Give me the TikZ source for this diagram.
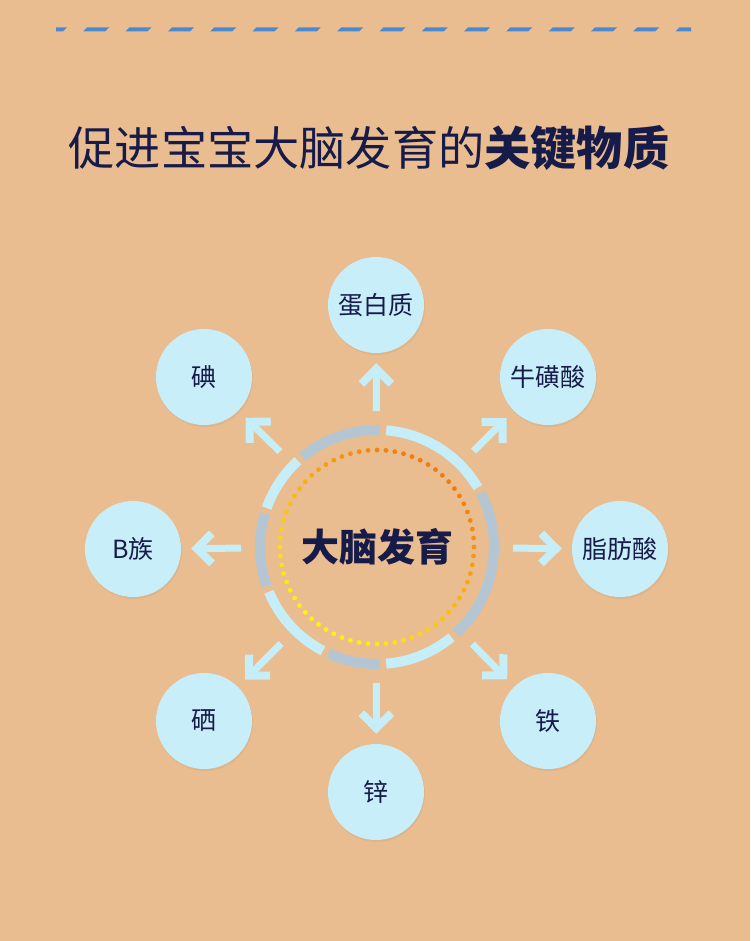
\documentclass[tikz,border=0pt]{standalone}
\usepackage{fontspec}
\setmainfont{Noto Sans CJK SC}
\usetikzlibrary{arrows.meta,shadows}
\definecolor{bg}{HTML}{E9BD8F}
\definecolor{navy}{HTML}{161B4A}
\definecolor{bubblec}{HTML}{C8EEFA}
\definecolor{ringg}{HTML}{B4C6D3}
\definecolor{ringc}{HTML}{C6EEF9}
\definecolor{arrowc}{HTML}{C6EEF9}
\definecolor{dashc}{HTML}{4A89CF}
\definecolor{dotor}{HTML}{F07A10}
\definecolor{dotye}{HTML}{FFE812}
\begin{document}
\begin{tikzpicture}[x=1pt,y=1pt,
  bubble/.style={circle, fill=bubblec, minimum size=96pt, inner sep=0pt, text=navy,
    font=\fontsize{25}{27}\selectfont,
    drop shadow={opacity=0.12, shadow xshift=1pt, shadow yshift=-2pt}},
  bigarrow/.style={draw=arrowc, line width=7pt,
    -{Straight Barb[length=15pt,width=30pt,line width=8pt]},
    shorten <=136pt, shorten >=10pt},
  ringseg/.style={line width=10pt}]
\fill[bg] (0,0) rectangle (750,-941);
\useasboundingbox (0,0) rectangle (750,-941);
% top dashed rule
\begin{scope}
\clip (56,-20) rectangle (691,-40);
\foreach \i in {-1,...,15}{
  \pgfmathsetmacro\xx{83.4+42.3*\i}
  \fill[dashc] (\xx,-31.3) -- (\xx+4,-27.3) -- (\xx+26,-27.3) -- (\xx+22,-31.3) -- cycle;
}
\end{scope}
% title
\node[text=navy, font=\fontsize{46.2}{50}\selectfont] (title) at (369,-148)
  {促进宝宝大脑发育的{\bfseries 关键物质}};
% center
\coordinate (c) at (377,-547);
% ring segments
\foreach \a/\b/\col in {-49/29/ringg, 29/87/ringc, 87/131/ringg, 131/162/ringc,
  162/201/ringg, 201/244/ringc, 244/273/ringg, 273/311/ringc}{
  \pgfmathsetmacro\sa{\a+1.5}
  \pgfmathsetmacro\ea{\b-1.5}
  \draw[ringseg, \col] (c) ++(\sa:117) arc[start angle=\sa, end angle=\ea, radius=117];
}
% dotted circle
\foreach \k in {0,...,67}{
  \pgfmathsetmacro\dang{5.294118*\k}
  \pgfmathtruncatemacro\mixp{45+55*cos(\dang-55)}
  \colorlet{dotcol}{dotor!\mixp!dotye}
  \fill[dotcol] (c) ++(\dang:97) circle[radius=2.4];
}
\node[text=navy, font=\bfseries\fontsize{38}{41}\selectfont] (ctext) at (c) {大脑发育};
% bubbles
\node[bubble] (n1) at (376,-305) {蛋白质};
\node[bubble] (n2) at (548,-377) {牛磺酸};
\node[bubble] (n3) at (620,-549) {脂肪酸};
\node[bubble] (n4) at (548,-721) {铁};
\node[bubble] (n5) at (376,-792) {锌};
\node[bubble] (n6) at (204,-721) {硒};
\node[bubble] (n7) at (133,-549) {B族};
\node[bubble] (n8) at (204,-377) {碘};
% arrows
\foreach \n in {n1,n2,n3,n4,n5,n6,n7,n8}
  \draw[bigarrow] (c) -- (\n);
\end{tikzpicture}
\end{document}
